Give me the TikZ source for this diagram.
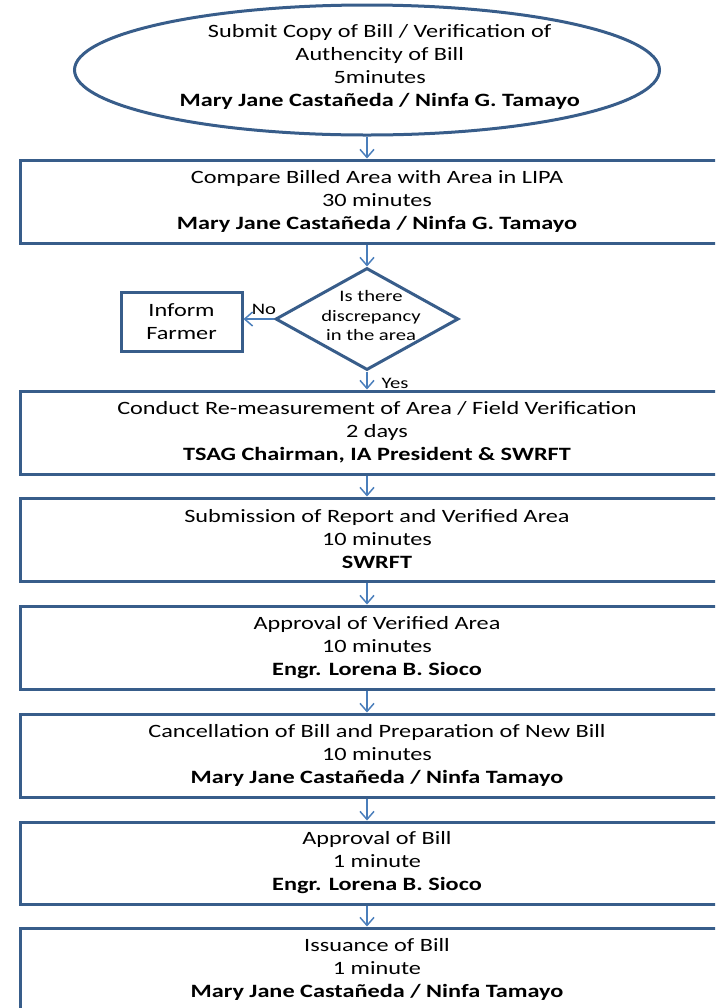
\documentclass[tikz,border=0pt]{standalone}
\usepackage{fontspec}
\setmainfont{Carlito}[FakeStretch=1.29]
\usetikzlibrary{shapes.geometric,arrows.meta}
\definecolor{edgeblue}{RGB}{56,93,138}
\definecolor{arrowblue}{RGB}{74,126,187}
\begin{document}
\begin{tikzpicture}[x=0.75pt,y=-0.75pt,
    box/.style={draw=edgeblue, line width=2.25pt, rectangle, align=center,
        minimum width=535.5pt, minimum height=62.25pt, inner sep=0pt,
        font=\fontsize{14.1}{17.25}\selectfont},
    oval/.style={draw=edgeblue, line width=2.25pt, ellipse,
        minimum width=438.75pt, minimum height=97.5pt, inner sep=0pt},
    decision/.style={draw=edgeblue, line width=2.25pt, diamond,
        minimum width=137.25pt, minimum height=76.5pt, inner sep=0pt},
    arr/.style={draw=arrowblue, line width=1.1pt,
        -{Straight Barb[length=6pt,width=10.5pt]}},
    lbl/.style={font=\fontsize{12}{14.6}\selectfont, inner sep=0pt}]
    \useasboundingbox (0,0) rectangle (715,1008);
    \clip (0,0) rectangle (715,1008);
    \node[oval, label={[align=center, inner sep=0pt, font=\fontsize{14.1}{17.25}\selectfont, xshift=9.5pt, yshift=2.5pt]center:Submit Copy of Bill / Verification of\\Authencity of Bill\\5minutes\\\textbf{Mary Jane Castañeda / Ninfa G. Tamayo}}] (start) at (367,70) {};
    \node[box] (cmp) at (377,201.5) {Compare Billed Area with Area in LIPA\\30 minutes\\\textbf{Mary Jane Castañeda / Ninfa G. Tamayo}};
    \node[decision, label={[lbl, align=center, xshift=3pt, yshift=2.5pt]center:Is there\\discrepancy\\in the area}] (dis) at (367,319) {};
    \node[draw=edgeblue, line width=2.25pt, align=center, minimum width=90.75pt, minimum height=44.25pt, inner sep=0pt,
        font=\fontsize{14.1}{17.25}\selectfont] (inform) at (181.5,321.5) {Inform\\Farmer};
    \node[lbl] (no) at (264,309) {No};
    \node[lbl] (yes) at (395,383) {Yes};
    \node[box] (remeas) at (377,432.5) {Conduct Re-measurement of Area / Field Verification\\2 days\\\textbf{TSAG Chairman, IA President \& SWRFT}};
    \node[box] (report) at (377,539.5) {Submission of Report and Verified Area\\10 minutes\\\textbf{SWRFT}};
    \node[box] (apprarea) at (377,647.5) {Approval of Verified Area\\10 minutes\\\textbf{Engr. Lorena B. Sioco}};
    \node[box] (cancel) at (377,755.5) {Cancellation of Bill and Preparation of New Bill\\10 minutes\\\textbf{Mary Jane Castañeda / Ninfa Tamayo}};
    \node[box, minimum height=61.5pt] (apprbill) at (377,863) {Approval of Bill\\1 minute\\\textbf{Engr. Lorena B. Sioco}};
    \node[box] (issue) at (377,969.5) {Issuance of Bill\\1 minute\\\textbf{Mary Jane Castañeda / Ninfa Tamayo}};
    % connectors
    \draw[arr] (start.south) -- (start.south |- cmp.north);
    \draw[arr] (dis.north |- cmp.south) -- (dis.north);
    \draw[arr] (dis.west) -- (dis.west -| inform.east);
    \draw[arr] (dis.south) -- (dis.south |- remeas.north);
    \draw[arr] (dis.south |- remeas.south) -- (dis.south |- report.north);
    \draw[arr] (dis.south |- report.south) -- (dis.south |- apprarea.north);
    \draw[arr] (dis.south |- apprarea.south) -- (dis.south |- cancel.north);
    \draw[arr] (dis.south |- cancel.south) -- (dis.south |- apprbill.north);
    \draw[arr] (dis.south |- apprbill.south) -- (dis.south |- issue.north);
\end{tikzpicture}
\end{document}
